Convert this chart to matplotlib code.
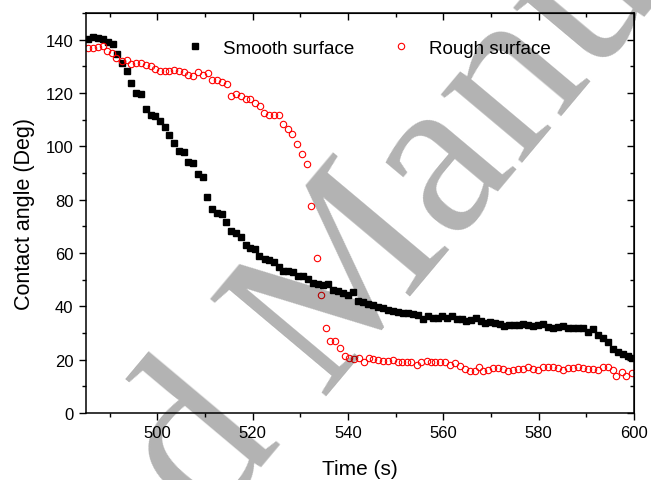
import matplotlib
matplotlib.use("Agg")
import matplotlib.pyplot as plt
from matplotlib import font_manager
from matplotlib.ticker import MultipleLocator

plt.rcParams["font.family"] = ["Liberation Sans", "DejaVu Sans"]

# Smooth surface (black squares): time (s), contact angle (deg)
smooth_t = [485.5, 486.5, 487.6, 488.6, 489.7, 490.6, 491.5, 492.5, 493.5, 494.4,
            495.5, 496.5, 497.5, 498.6, 499.5, 500.5, 501.5, 502.5, 503.5, 504.5,
            505.6, 506.5, 507.5, 508.4, 509.5, 510.4, 511.4, 512.4, 513.5, 514.4,
            515.4, 516.5, 517.5, 518.5, 519.4, 520.4, 521.4, 522.6, 523.4, 524.4,
            525.5, 526.4, 527.4, 528.5, 529.5, 530.6, 531.6, 532.7, 533.7, 534.8,
            535.8, 536.9, 537.9, 538.9, 539.9, 541.0, 542.1, 543.2, 544.2, 545.3,
            546.3, 547.4, 548.4, 549.5, 550.5, 551.6, 552.6, 553.7, 554.7, 555.8,
            556.8, 557.8, 558.8, 559.8, 560.8, 561.8, 562.8, 563.8, 564.8, 565.8,
            566.8, 567.8, 568.8, 569.8, 570.8, 571.8, 572.8, 573.8, 574.8, 575.8,
            576.8, 577.8, 578.8, 579.9, 580.9, 582.0, 583.0, 584.1, 585.1, 586.2,
            587.2, 588.3, 589.3, 590.4, 591.4, 592.5, 593.5, 594.6, 595.6, 596.7,
            597.7, 598.8, 599.5]
smooth_angle = [140.4, 140.9, 140.6, 140.2, 139.1, 138.4, 134.5, 131.3, 128.3, 123.8,
                120.0, 119.8, 114.1, 111.9, 111.4, 109.5, 107.3, 104.1, 101.1, 98.2,
                97.9, 94.2, 93.8, 89.5, 88.6, 81.1, 76.6, 74.9, 74.6, 71.6,
                68.3, 67.6, 66.0, 62.9, 61.8, 61.4, 58.9, 57.7, 57.3, 56.8,
                54.9, 53.1, 53.1, 52.8, 51.5, 51.2, 50.4, 48.9, 48.3, 47.9,
                48.3, 46.2, 45.6, 45.0, 44.4, 45.2, 42.0, 41.5, 40.8, 40.6,
                39.8, 39.4, 38.7, 38.3, 37.9, 37.6, 37.4, 37.0, 36.7, 35.4,
                36.4, 35.8, 35.8, 36.4, 35.8, 36.2, 35.4, 35.2, 34.6, 34.8,
                35.8, 34.6, 33.7, 34.2, 33.9, 33.3, 32.5, 32.9, 32.9, 33.1,
                33.3, 32.9, 32.7, 33.1, 33.3, 32.1, 31.7, 32.1, 32.7, 31.8,
                31.7, 31.7, 31.7, 30.2, 31.4, 29.2, 28.0, 26.5, 24.0, 22.7,
                22.1, 21.5, 20.8]

# Rough surface (red open circles)
rough_t = [485.5, 486.4, 487.5, 488.5, 489.5, 490.5, 491.4, 492.5, 493.5, 494.4,
           495.5, 496.5, 497.5, 498.6, 499.5, 500.5, 501.5, 502.5, 503.5, 504.5,
           505.6, 506.5, 507.5, 508.4, 509.5, 510.5, 511.5, 512.5, 513.6, 514.5,
           515.5, 516.5, 517.5, 518.5, 519.5, 520.5, 521.5, 522.3, 523.4, 524.4,
           525.5, 526.4, 527.4, 528.3, 529.3, 530.3, 531.4, 532.3, 533.4, 534.3,
           535.3, 536.2, 537.2, 538.3, 539.3, 540.2, 541.3, 542.3, 543.3, 544.4,
           545.3, 546.3, 547.4, 548.4, 549.5, 550.4, 551.4, 552.3, 553.3, 554.4,
           555.4, 556.5, 557.3, 558.3, 559.3, 560.3, 561.4, 562.4, 563.5, 564.5,
           565.6, 566.6, 567.5, 568.3, 569.4, 570.4, 571.5, 572.5, 573.6, 574.6,
           575.7, 576.7, 577.8, 578.8, 579.9, 580.9, 582.0, 583.0, 584.1, 585.1,
           586.2, 587.2, 588.3, 589.3, 590.4, 591.4, 592.5, 593.5, 594.6, 595.5,
           596.3, 597.4, 598.4, 599.5]
rough_angle = [136.9, 136.9, 137.1, 137.5, 135.9, 135.0, 133.2, 131.9, 132.2, 130.9,
               131.3, 131.3, 130.4, 130.0, 129.0, 128.2, 128.2, 128.2, 128.8, 128.4,
               127.8, 126.9, 126.5, 127.8, 126.9, 127.6, 124.7, 124.7, 124.0, 123.4,
               118.8, 119.8, 118.8, 117.6, 117.6, 116.3, 115.1, 112.6, 111.9, 111.6,
               111.6, 108.2, 106.6, 104.5, 100.7, 97.2, 93.5, 77.6, 58.0, 44.3,
               31.8, 27.1, 27.1, 24.3, 21.2, 20.5, 20.2, 20.6, 19.3, 20.5,
               20.2, 20.0, 19.6, 19.6, 20.0, 19.3, 19.0, 19.0, 19.0, 18.1,
               19.3, 19.6, 19.3, 19.3, 19.2, 19.3, 18.1, 18.7, 17.7, 16.5,
               15.8, 15.8, 17.1, 15.8, 16.2, 16.7, 16.7, 16.5, 15.8, 16.1,
               16.5, 16.5, 17.1, 16.5, 16.2, 17.1, 17.1, 17.1, 16.8, 16.1,
               16.7, 16.7, 17.3, 16.8, 16.5, 16.5, 16.2, 17.3, 17.3, 16.1,
               14.0, 15.2, 13.7, 15.0]

fig = plt.figure(figsize=(6.51, 4.81), dpi=100)
ax = fig.add_axes([0.1321, 0.1393, 0.8418, 0.8316])

ax.plot(smooth_t, smooth_angle, ls="none", marker="s", ms=4.2, color="black",
        mec="black", label="Smooth surface")
ax.plot(rough_t, rough_angle, ls="none", marker="o", ms=4.6, mfc="none",
        mec="#ff0000", mew=0.8, label="Rough surface")

ax.set_xlim(485, 600)
ax.set_ylim(0, 150)
ax.xaxis.set_major_locator(MultipleLocator(20))
ax.xaxis.set_minor_locator(MultipleLocator(10))
ax.yaxis.set_major_locator(MultipleLocator(20))
ax.yaxis.set_minor_locator(MultipleLocator(10))
ax.tick_params(which="both", direction="out", width=1.0, labelsize=12, pad=4)
ax.tick_params(which="major", length=5)
ax.tick_params(which="minor", length=3)
for sp in ax.spines.values():
    sp.set_linewidth(1.1)

# top / right ticks point inward, no labels
top = ax.secondary_xaxis("top")
top.xaxis.set_major_locator(MultipleLocator(20))
top.xaxis.set_minor_locator(MultipleLocator(10))
top.tick_params(which="both", direction="in", width=1.0, labeltop=False)
top.tick_params(which="major", length=5)
top.tick_params(which="minor", length=3)
right = ax.secondary_yaxis("right")
right.yaxis.set_major_locator(MultipleLocator(20))
right.yaxis.set_minor_locator(MultipleLocator(10))
right.tick_params(which="both", direction="in", width=1.0, labelright=False)
right.tick_params(which="major", length=5)
right.tick_params(which="minor", length=3)

ax.set_xlabel("Time (s)", fontsize=15, labelpad=13)
ax.set_ylabel("Contact angle (Deg)", fontsize=15.5, labelpad=8)

ax.legend(loc="center", bbox_to_anchor=(0.515, 0.9125), ncol=2, frameon=False,
          fontsize=13.5, numpoints=1, handlelength=1.0, handletextpad=1.0,
          columnspacing=2.0, borderpad=0.0)

# "Accepted Manuscript" watermark laid over the chart (Times-like serif)
serif_file = None
for f in font_manager.fontManager.ttflist:
    if f.name == "Liberation Serif" and f.style == "normal" and f.weight == 400:
        serif_file = f.fname
        break
if serif_file:
    wm_font = font_manager.FontProperties(fname=serif_file, size=166)
else:
    wm_font = font_manager.FontProperties(family="serif", size=166)

fig.text(0.4916, 0.1767, "Manuscript", fontproperties=wm_font,
         rotation=50, rotation_mode="anchor", ha="left", va="baseline",
         color="black", alpha=0.3, zorder=10)
fig.text(0.4347, 0.0852, "Accepted", fontproperties=wm_font,
         rotation=50, rotation_mode="anchor", ha="right", va="baseline",
         color="black", alpha=0.3, zorder=10)

fig.savefig("out.png", dpi=100)
